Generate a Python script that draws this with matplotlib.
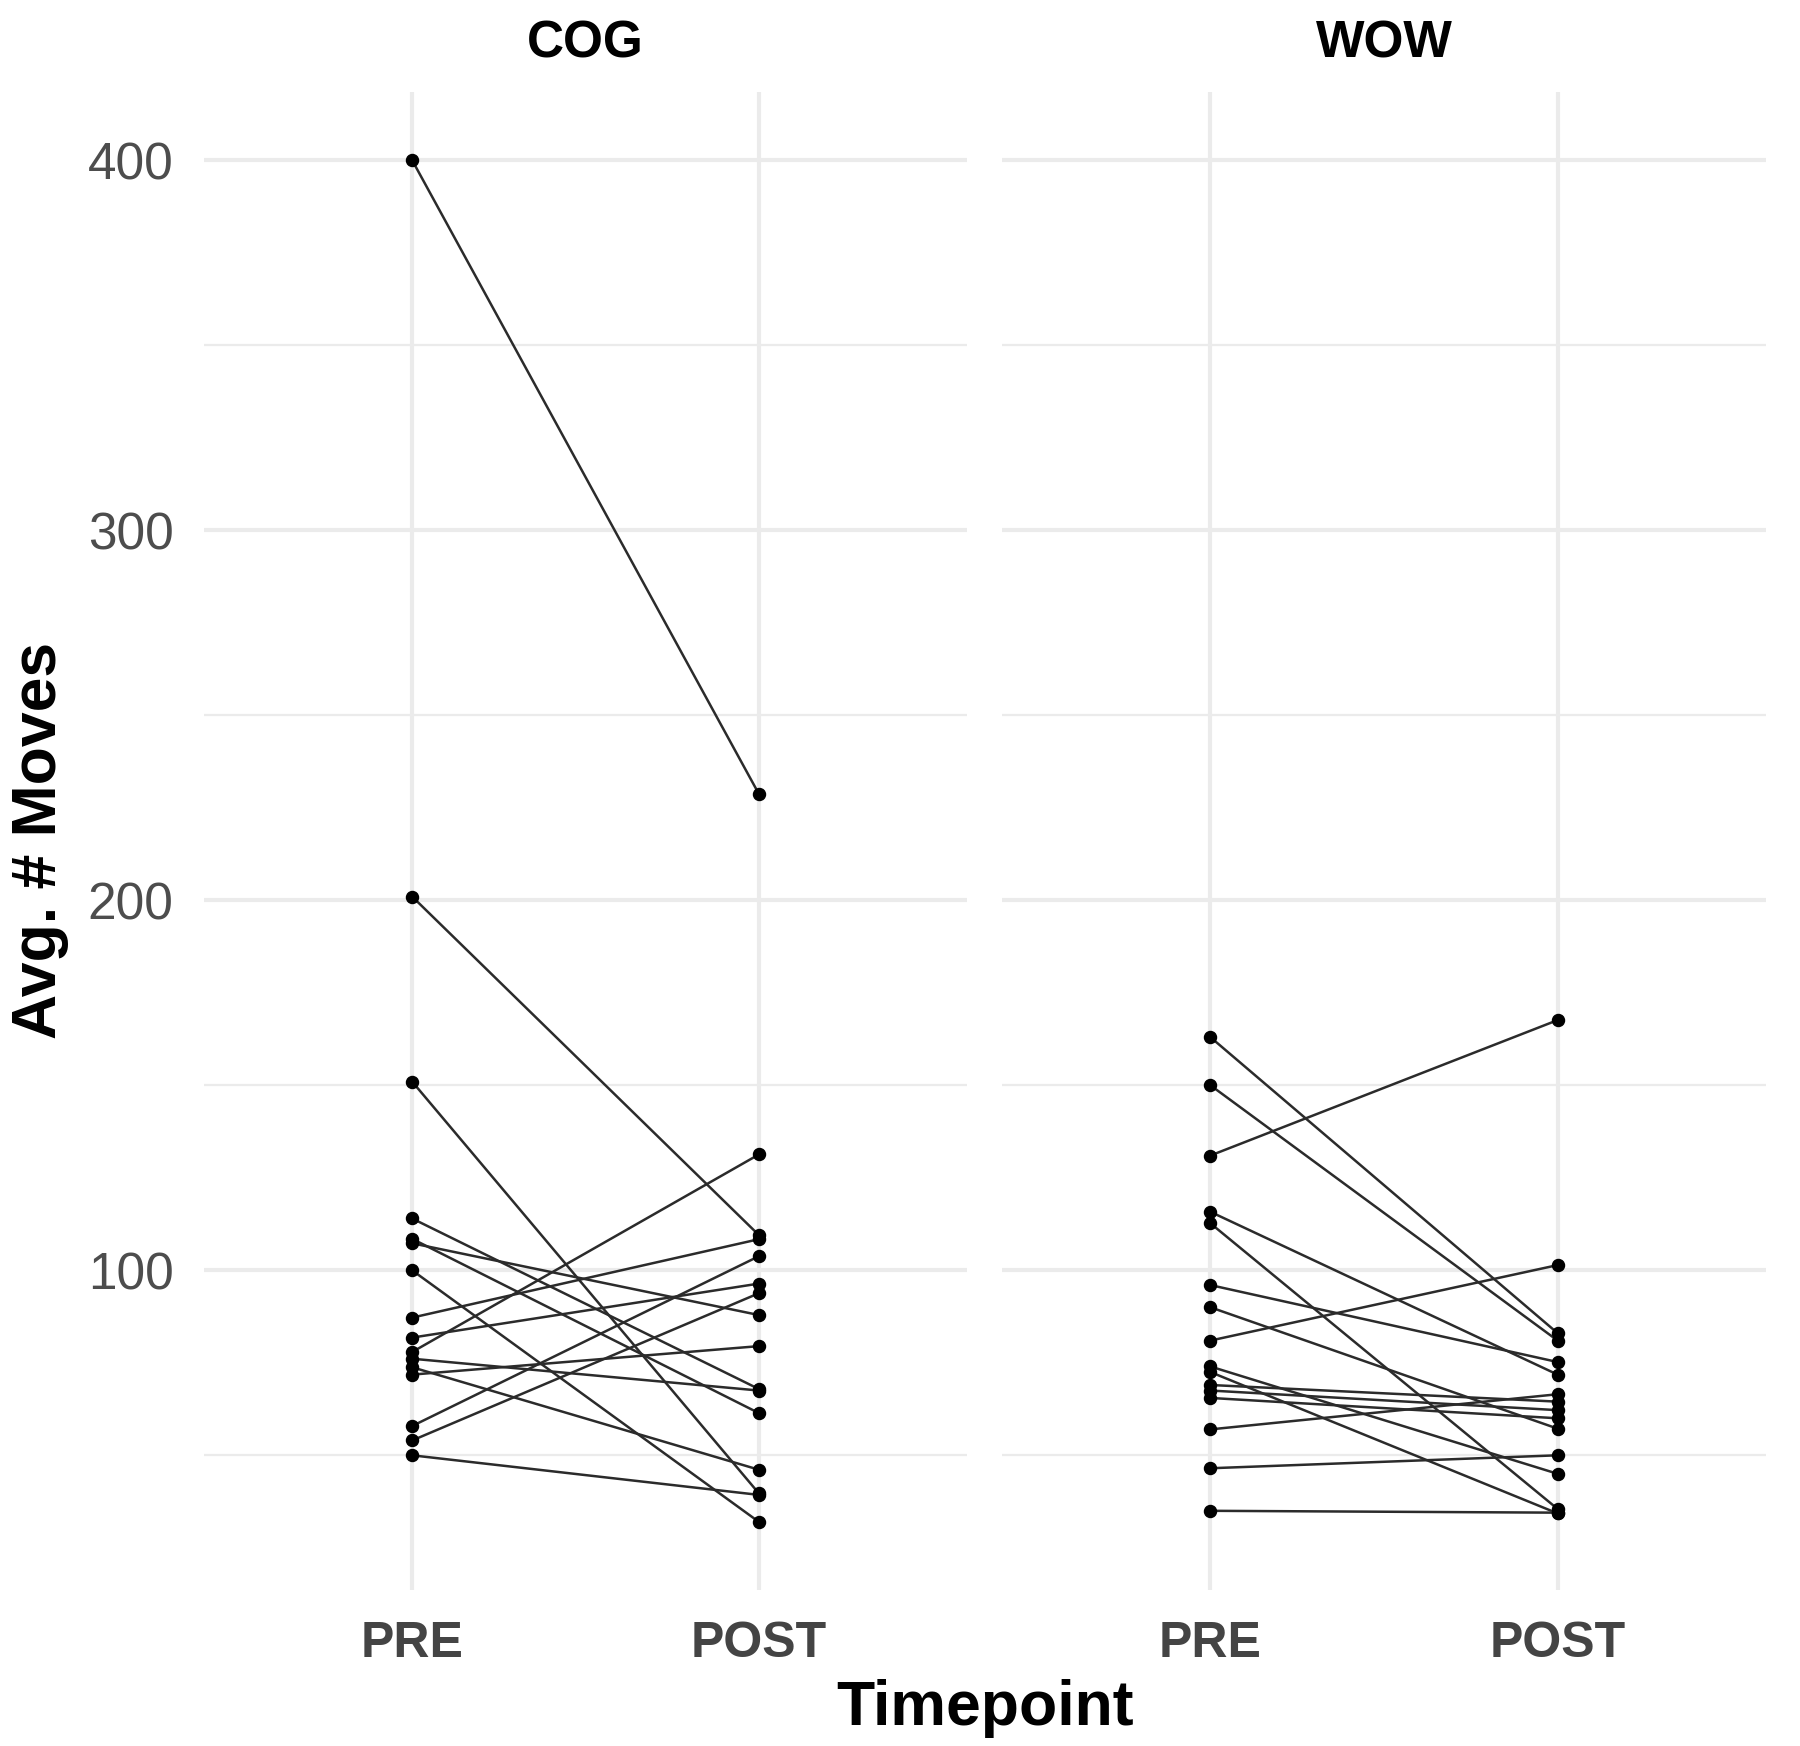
import matplotlib
matplotlib.use("Agg")
import matplotlib.pyplot as plt

plt.rcParams['font.family'] = ['Liberation Sans', 'DejaVu Sans']

timepoints = ["PRE", "POST"]
groups = ["COG", "WOW"]

# one entry per participant, PRE value and POST value
cog_pre = [400, 201, 151, 114, 108.5, 107.3, 100, 87.2, 81.8, 77.9, 76.1, 73.8, 71.8, 57.9, 54, 50]
cog_post = [228.7, 109.5, 39.7, 67.9, 61.4, 87.9, 32, 108.4, 96.4, 131.3, 67.5, 46.1, 79.5, 103.8, 93.8, 39.3]

wow_pre = [163, 150, 131, 115.8, 112.7, 96, 90, 81, 74, 72.5, 69, 67.5, 65.5, 57, 46.5, 35]
wow_post = [83, 81, 167.6, 71.8, 35.5, 75.2, 57.2, 101.4, 45, 34.3, 64.5, 62.2, 60, 66.5, 50, 34.5]

data = {"COG": (cog_pre, cog_post), "WOW": (wow_pre, wow_post)}

major_y = [100, 200, 300, 400]
minor_y = [50, 150, 250, 350]

fig = plt.figure(figsize=(18, 17.46), dpi=100)
W, H = 1800, 1746
panels = {"COG": (204, 967), "WOW": (1002, 1766)}
top_px, bot_px = 92, 1590

for i, g in enumerate(groups):
    x0, x1 = panels[g]
    ax = fig.add_axes([x0 / W, 1 - bot_px / H, (x1 - x0) / W, (bot_px - top_px) / H])
    pre, post = data[g]
    for a, b in zip(pre, post):
        ax.plot([1, 2], [a, b], color='#2b2b2b', lw=1.8, zorder=3)
    ax.scatter([1] * len(pre), pre, s=75, color='black', zorder=4)
    ax.scatter([2] * len(post), post, s=75, color='black', zorder=4)

    ax.set_xlim(0.4, 2.6)
    ax.set_ylim(13.6, 418.4)
    for y in major_y:
        ax.axhline(y, color='#EBEBEB', lw=3.0, zorder=0)
    for y in minor_y:
        ax.axhline(y, color='#EBEBEB', lw=1.6, zorder=0)
    for x in [1, 2]:
        ax.axvline(x, color='#EBEBEB', lw=3.0, zorder=0)

    ax.set_xticks([1, 2])
    ax.set_xticklabels(timepoints, fontsize=36, fontweight='bold', color='#444444')
    ax.set_yticks(major_y)
    if i == 0:
        ax.set_yticklabels([str(v) for v in major_y], fontsize=37, color='#4D4D4D')
    else:
        ax.set_yticklabels([])
    ax.tick_params(length=0, pad=22)
    for s in ax.spines.values():
        s.set_visible(False)

    fig.text((x0 + x1) / 2 / W, 1 - 44 / H, g, ha='center', va='center',
             fontsize=37, fontweight='bold', color='black')

fig.text(985 / W, 1 - 1708 / H, "Timepoint", ha='center', va='center',
         fontsize=45, fontweight='bold', color='black')
fig.text(40 / W, 1 - 840 / H, "Avg. # Moves", ha='center', va='center',
         rotation=90, fontsize=45, fontweight='bold', color='black')

fig.savefig("out.png", dpi=100, facecolor='white')
